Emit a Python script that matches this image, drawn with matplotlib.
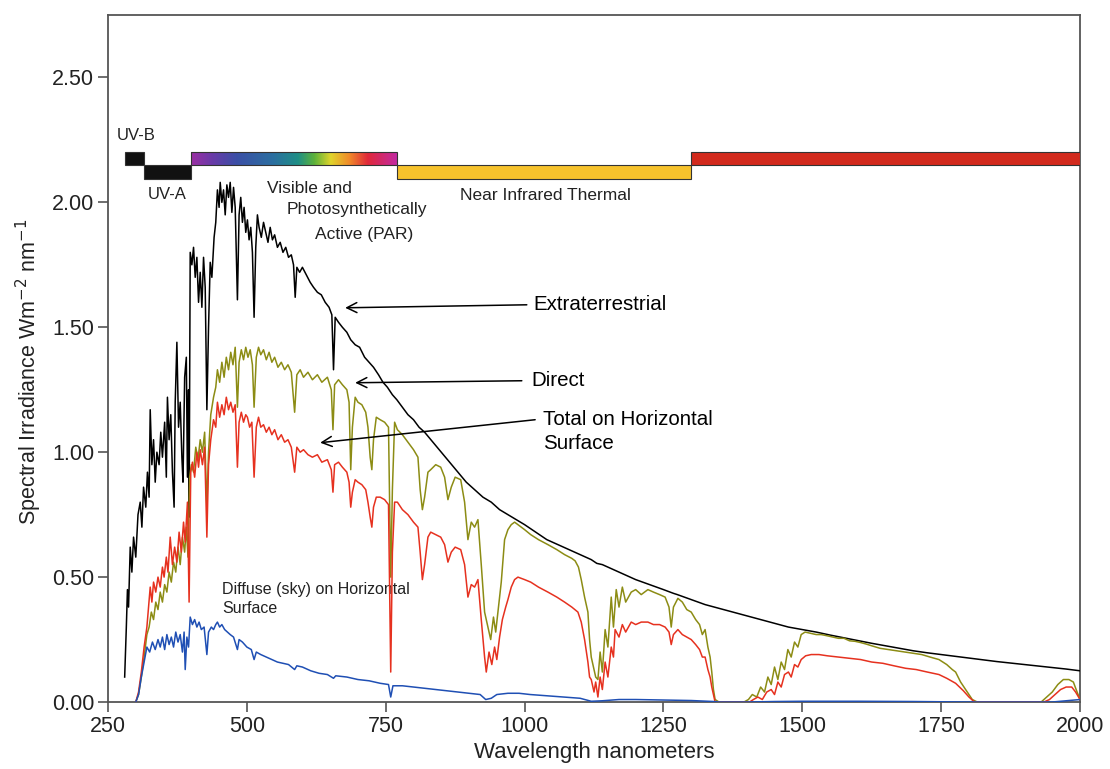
import matplotlib
matplotlib.use("Agg")
import matplotlib.pyplot as plt
import numpy as np
from matplotlib.colors import LinearSegmentedColormap
from matplotlib.patches import Rectangle

plt.rcParams['font.family'] = ['Liberation Sans', 'DejaVu Sans']

# extraterrestrial (black)
ext_wl = [280, 283, 285, 287, 290, 293, 296, 300, 304, 308, 311, 314, 318, 321, 324, 326, 329, 332, 335, 338,
          342, 345, 348, 352, 355, 357, 360, 363, 366, 369, 371, 374, 377, 380, 383, 385, 388, 391, 393, 395,
          396, 398, 401, 404, 407, 410, 413, 416, 419, 422, 425, 428, 431, 434, 437, 441, 444, 447, 450, 452,
          455, 458, 461, 464, 467, 470, 473, 476, 479, 483, 486, 489, 492, 495, 498, 501, 504, 507, 510, 513,
          516, 519, 522, 526, 530, 534, 538, 542, 546, 550, 555, 560, 565, 570, 575, 580, 584, 587, 590, 595,
          600, 607, 614, 620, 627, 634, 641, 648, 653, 656, 659, 665, 672, 680, 687, 695, 703, 712, 720, 728,
          737, 745, 753, 762, 770, 780, 790, 800, 810, 820, 835, 850, 865, 880, 895, 910, 925, 940, 955, 970,
          985, 1000, 1020, 1040, 1060, 1080, 1100, 1120, 1130, 1140, 1160, 1180, 1200, 1225, 1250, 1268, 1275, 1300, 1325, 1350,
          1375, 1400, 1425, 1450, 1475, 1500, 1525, 1550, 1575, 1600, 1625, 1650, 1675, 1700, 1725, 1750, 1775, 1800, 1825, 1850,
          1875, 1900, 1925, 1950, 1975, 2000]
ext_val = [0.10, 0.30, 0.45, 0.38, 0.62, 0.52, 0.66, 0.58, 0.75, 0.80, 0.70, 0.86, 0.78, 0.92, 0.82, 1.17, 0.95, 1.05, 0.88, 1.00,
           0.95, 1.08, 0.98, 1.12, 0.90, 1.22, 1.05, 1.15, 0.92, 0.78, 1.20, 1.44, 1.10, 1.20, 0.98, 0.88, 1.30, 1.38, 0.90, 1.25,
           0.74, 1.80, 1.75, 1.82, 1.70, 1.78, 1.60, 1.72, 1.58, 1.78, 1.66, 1.17, 1.50, 1.76, 1.70, 1.86, 1.92, 2.05, 1.98, 2.08,
           2.00, 2.05, 1.95, 2.07, 2.02, 2.08, 1.96, 2.06, 1.98, 1.61, 1.95, 2.02, 1.92, 1.98, 1.88, 1.93, 1.85, 1.90, 1.80, 1.54,
           1.82, 1.95, 1.90, 1.86, 1.92, 1.88, 1.84, 1.90, 1.85, 1.87, 1.82, 1.84, 1.80, 1.82, 1.78, 1.79, 1.75, 1.62, 1.74, 1.72,
           1.74, 1.71, 1.68, 1.66, 1.64, 1.63, 1.60, 1.58, 1.55, 1.33, 1.54, 1.52, 1.50, 1.48, 1.45, 1.43, 1.42, 1.38, 1.36, 1.34,
           1.31, 1.28, 1.26, 1.23, 1.21, 1.18, 1.15, 1.13, 1.10, 1.08, 1.04, 1.00, 0.96, 0.92, 0.88, 0.85, 0.82, 0.80, 0.77, 0.75,
           0.73, 0.71, 0.68, 0.65, 0.63, 0.61, 0.59, 0.57, 0.555, 0.55, 0.53, 0.51, 0.49, 0.47, 0.45, 0.435, 0.43, 0.41, 0.39, 0.375,
           0.36, 0.345, 0.33, 0.315, 0.30, 0.29, 0.28, 0.268, 0.257, 0.246, 0.235, 0.225, 0.215, 0.205, 0.197, 0.19, 0.183, 0.176, 0.169, 0.162,
           0.156, 0.150, 0.144, 0.138, 0.132, 0.125]

# direct (olive)
dir_wl = [300, 305, 310, 315, 320, 324, 328, 332, 336, 340, 344, 348, 352, 356, 360, 364, 368, 372, 376, 380,
          384, 388, 391, 394, 397, 400, 404, 408, 412, 416, 420, 424, 428, 431, 435, 440, 444, 447, 451, 455,
          459, 463, 467, 471, 475, 479, 483, 486, 490, 494, 498, 502, 506, 510, 513, 517, 521, 525, 530, 535,
          540, 545, 550, 556, 562, 568, 574, 580, 586, 590, 596, 602, 610, 618, 627, 635, 645, 652, 655, 658,
          665, 672, 680, 684, 687, 690, 695, 700, 707, 714, 718, 722, 725, 728, 733, 740, 748, 755, 759, 762,
          766, 771, 780, 790, 800, 808, 812, 816, 820, 826, 831, 840, 849, 856, 862, 868, 875, 885, 892, 898,
          904, 910, 916, 922, 928, 934, 939, 944, 948, 952, 958, 964, 970, 976, 982, 988, 1000, 1011, 1025, 1042,
          1058, 1072, 1085, 1091, 1097, 1102, 1108, 1114, 1117, 1120, 1124, 1128, 1132, 1136, 1140, 1145, 1150, 1156, 1160, 1165,
          1170, 1176, 1182, 1192, 1200, 1210, 1222, 1232, 1243, 1253, 1260, 1264, 1268, 1276, 1284, 1292, 1300, 1308, 1315, 1320,
          1325, 1330, 1334, 1337, 1340, 1343, 1350, 1395, 1403, 1410, 1418, 1425, 1432, 1438, 1444, 1450, 1456, 1462, 1468, 1474,
          1480, 1486, 1492, 1498, 1505, 1515, 1525, 1534, 1545, 1555, 1565, 1575, 1585, 1595, 1605, 1615, 1625, 1640, 1655, 1670,
          1686, 1700, 1715, 1730, 1746, 1760, 1770, 1776, 1785, 1794, 1800, 1806, 1815, 1930, 1940, 1950, 1960, 1970, 1980, 1988,
          1993, 2000]
dir_val = [0.00, 0.03, 0.10, 0.18, 0.27, 0.30, 0.36, 0.33, 0.40, 0.37, 0.44, 0.40, 0.47, 0.44, 0.52, 0.48, 0.56, 0.52, 0.62, 0.55,
           0.66, 0.60, 0.70, 0.58, 0.90, 0.95, 0.92, 1.02, 0.97, 1.05, 1.00, 1.08, 0.78, 1.00, 1.15, 1.22, 1.26, 1.33, 1.28, 1.36,
           1.30, 1.38, 1.33, 1.40, 1.35, 1.42, 1.18, 1.36, 1.41, 1.37, 1.42, 1.38, 1.41, 1.35, 1.18, 1.38, 1.42, 1.39, 1.41, 1.37,
           1.40, 1.36, 1.38, 1.34, 1.36, 1.33, 1.35, 1.32, 1.16, 1.31, 1.33, 1.30, 1.32, 1.29, 1.31, 1.28, 1.30, 1.25, 1.09, 1.27,
           1.29, 1.27, 1.25, 1.20, 0.93, 1.10, 1.22, 1.20, 1.19, 1.16, 1.10, 0.98, 0.93, 1.05, 1.14, 1.13, 1.12, 1.10, 0.50, 0.85,
           1.12, 1.09, 1.07, 1.04, 1.01, 0.98, 0.85, 0.77, 0.82, 0.92, 0.93, 0.95, 0.94, 0.90, 0.81, 0.86, 0.90, 0.89, 0.80, 0.65,
           0.72, 0.70, 0.73, 0.55, 0.36, 0.30, 0.25, 0.34, 0.28, 0.36, 0.48, 0.65, 0.69, 0.71, 0.72, 0.71, 0.69, 0.67, 0.65, 0.63,
           0.61, 0.59, 0.575, 0.565, 0.54, 0.49, 0.42, 0.36, 0.25, 0.18, 0.14, 0.10, 0.09, 0.20, 0.12, 0.29, 0.22, 0.42, 0.30, 0.45,
           0.38, 0.46, 0.40, 0.44, 0.45, 0.43, 0.45, 0.44, 0.43, 0.42, 0.38, 0.30, 0.38, 0.415, 0.40, 0.37, 0.36, 0.33, 0.31, 0.27,
           0.29, 0.22, 0.18, 0.12, 0.05, 0.01, 0.00, 0.00, 0.01, 0.03, 0.02, 0.06, 0.04, 0.10, 0.07, 0.14, 0.09, 0.16, 0.13, 0.21,
           0.18, 0.24, 0.22, 0.27, 0.28, 0.275, 0.27, 0.27, 0.265, 0.26, 0.255, 0.255, 0.245, 0.243, 0.238, 0.232, 0.225, 0.215, 0.21, 0.205,
           0.20, 0.195, 0.19, 0.18, 0.17, 0.15, 0.13, 0.12, 0.08, 0.05, 0.03, 0.01, 0.00, 0.00, 0.02, 0.04, 0.07, 0.09, 0.09, 0.08,
           0.05, 0.01]

# total on horizontal surface (red)
tot_wl = [300, 305, 310, 315, 320, 323, 326, 329, 332, 336, 340, 344, 348, 351, 355, 358, 362, 366, 370, 374,
          378, 382, 386, 389, 393, 396, 399, 402, 406, 410, 413, 416, 420, 424, 428, 431, 435, 440, 444, 447,
          451, 455, 459, 463, 467, 471, 475, 479, 483, 486, 490, 494, 498, 501, 505, 509, 513, 517, 521, 525,
          530, 535, 540, 545, 550, 556, 562, 568, 574, 580, 586, 590, 596, 602, 610, 618, 627, 635, 645, 652,
          655, 658, 665, 672, 680, 684, 687, 690, 695, 700, 707, 714, 718, 722, 725, 728, 733, 740, 748, 755,
          759, 762, 766, 771, 780, 790, 800, 808, 812, 816, 820, 826, 831, 840, 849, 856, 862, 868, 875, 885,
          892, 898, 904, 910, 916, 922, 928, 931, 936, 941, 946, 950, 955, 960, 966, 970, 976, 982, 988, 1000,
          1011, 1025, 1042, 1058, 1072, 1085, 1096, 1102, 1108, 1114, 1117, 1120, 1125, 1128, 1132, 1136, 1140, 1145, 1150, 1156,
          1160, 1163, 1170, 1176, 1182, 1192, 1200, 1210, 1222, 1232, 1243, 1253, 1260, 1264, 1268, 1276, 1284, 1292, 1300, 1308,
          1315, 1320, 1325, 1330, 1334, 1337, 1340, 1343, 1405, 1412, 1420, 1428, 1436, 1444, 1450, 1456, 1462, 1468, 1475, 1480,
          1486, 1492, 1498, 1506, 1516, 1530, 1545, 1565, 1585, 1605, 1625, 1645, 1665, 1686, 1705, 1725, 1746, 1760, 1776, 1790,
          1800, 1810, 1935, 1945, 1955, 1965, 1975, 1985, 1992, 2000]
tot_val = [0.00, 0.04, 0.12, 0.22, 0.30, 0.38, 0.46, 0.40, 0.48, 0.44, 0.50, 0.46, 0.54, 0.50, 0.58, 0.52, 0.66, 0.55, 0.62, 0.56,
           0.68, 0.60, 0.72, 0.64, 0.80, 0.40, 0.92, 0.96, 0.90, 1.00, 0.94, 1.01, 0.95, 1.02, 0.66, 0.95, 1.05, 1.13, 1.10, 1.20,
           1.14, 1.19, 1.15, 1.22, 1.17, 1.20, 1.16, 1.19, 0.94, 1.12, 1.16, 1.12, 1.15, 1.14, 1.10, 1.12, 0.90, 1.10, 1.14, 1.10,
           1.11, 1.08, 1.10, 1.07, 1.09, 1.05, 1.07, 1.04, 1.05, 1.02, 0.92, 1.02, 1.00, 1.01, 0.99, 0.98, 0.99, 0.96, 0.97, 0.93,
           0.84, 0.95, 0.96, 0.94, 0.92, 0.88, 0.78, 0.84, 0.89, 0.88, 0.87, 0.85, 0.80, 0.74, 0.70, 0.78, 0.82, 0.82, 0.81, 0.79,
           0.12, 0.60, 0.80, 0.80, 0.77, 0.75, 0.72, 0.70, 0.60, 0.49, 0.55, 0.66, 0.68, 0.67, 0.66, 0.63, 0.56, 0.60, 0.62, 0.61,
           0.55, 0.42, 0.47, 0.46, 0.49, 0.33, 0.18, 0.12, 0.20, 0.15, 0.22, 0.17, 0.26, 0.33, 0.38, 0.41, 0.46, 0.49, 0.50, 0.49,
           0.48, 0.46, 0.44, 0.42, 0.40, 0.38, 0.36, 0.32, 0.25, 0.16, 0.10, 0.09, 0.04, 0.08, 0.02, 0.10, 0.05, 0.16, 0.10, 0.22,
           0.18, 0.29, 0.26, 0.31, 0.28, 0.32, 0.31, 0.32, 0.32, 0.31, 0.31, 0.30, 0.28, 0.23, 0.27, 0.29, 0.27, 0.26, 0.25, 0.23,
           0.21, 0.18, 0.18, 0.13, 0.10, 0.06, 0.03, 0.00, 0.00, 0.01, 0.02, 0.01, 0.04, 0.05, 0.03, 0.08, 0.06, 0.11, 0.12, 0.10,
           0.15, 0.14, 0.17, 0.185, 0.19, 0.19, 0.185, 0.18, 0.175, 0.17, 0.16, 0.155, 0.145, 0.135, 0.13, 0.12, 0.11, 0.095, 0.075, 0.045,
           0.02, 0.00, 0.00, 0.01, 0.03, 0.05, 0.06, 0.06, 0.04, 0.01]

# diffuse sky on horizontal surface (blue)
dif_wl = [300, 305, 310, 315, 320, 325, 330, 335, 340, 344, 348, 352, 356, 360, 364, 368, 372, 376, 380, 384,
          387, 389, 392, 395, 398, 402, 406, 410, 414, 418, 423, 428, 431, 436, 440, 444, 447, 451, 455, 460,
          465, 470, 476, 483, 486, 492, 500, 508, 513, 517, 525, 535, 545, 555, 565, 575, 586, 590, 600, 615,
          630, 645, 656, 660, 680, 700, 720, 740, 755, 759, 763, 780, 800, 820, 840, 860, 880, 900, 920, 930,
          940, 950, 970, 990, 1010, 1040, 1070, 1100, 1120, 1140, 1170, 1200, 1250, 1300, 1340, 1350, 1400, 1450, 1500, 1600,
          1700, 1800, 1950, 2000]
dif_val = [0.00, 0.03, 0.10, 0.16, 0.22, 0.20, 0.24, 0.21, 0.25, 0.22, 0.26, 0.21, 0.27, 0.23, 0.26, 0.22, 0.28, 0.24, 0.27, 0.20,
           0.28, 0.13, 0.26, 0.22, 0.34, 0.31, 0.33, 0.30, 0.32, 0.29, 0.30, 0.19, 0.28, 0.30, 0.29, 0.31, 0.32, 0.30, 0.31, 0.29,
           0.28, 0.27, 0.26, 0.21, 0.25, 0.24, 0.22, 0.21, 0.17, 0.20, 0.19, 0.18, 0.17, 0.16, 0.155, 0.15, 0.13, 0.145, 0.14, 0.125,
           0.115, 0.11, 0.095, 0.105, 0.10, 0.09, 0.085, 0.075, 0.07, 0.02, 0.065, 0.065, 0.06, 0.055, 0.05, 0.045, 0.04, 0.035, 0.03, 0.01,
           0.015, 0.03, 0.035, 0.035, 0.03, 0.025, 0.02, 0.015, 0.003, 0.005, 0.01, 0.01, 0.008, 0.006, 0.002, 0.0, 0.0, 0.002, 0.003, 0.003,
           0.002, 0.0, 0.0, 0.01]

# spectral bands along the top
band_names = ['UV-B', 'UV-A', 'Visible', 'Near IR', 'Thermal']
band_start = [280, 315, 400, 770, 1300]
band_end = [315, 400, 770, 1300, 2000]
band_low = [2.15, 2.095, 2.15, 2.095, 2.15]
band_high = [2.20, 2.15, 2.20, 2.15, 2.20]
band_color = ['#111111', '#111111', None, '#f6c22c', '#d22a1d']

vis_stops = [0.0, 0.10, 0.22, 0.40, 0.52, 0.60, 0.68, 0.77, 0.86, 1.0]
vis_colors = ['#9b2fa3', '#6a3aa8', '#3b4fa6', '#2b6fa0', '#1f8f86', '#5db23a', '#e0d42c', '#f08a2a', '#e0283a', '#c22aa0']

fig = plt.figure(figsize=(11.1, 7.69), dpi=100)
ax = fig.add_axes([0.0973, 0.0871, 0.8757, 0.8934])

ax.plot(ext_wl, ext_val, color='black', lw=1.1, zorder=3)
ax.plot(dir_wl, dir_val, color='#8c8c14', lw=1.1, zorder=4)
ax.plot(tot_wl, tot_val, color='#e6311f', lw=1.1, zorder=5)
ax.plot(dif_wl, dif_val, color='#1f4fb4', lw=1.1, zorder=6)

# band bars
cmap = LinearSegmentedColormap.from_list('vis', list(zip(vis_stops, vis_colors)))
for i in range(len(band_names)):
    x0, x1 = band_start[i], band_end[i]
    y0, y1 = band_low[i], band_high[i]
    if band_color[i] is None:
        ax.imshow(np.linspace(0, 1, 256).reshape(1, -1), cmap=cmap, aspect='auto',
                  extent=[x0, x1, y0, y1], zorder=7)
        ax.add_patch(Rectangle((x0, y0), x1 - x0, y1 - y0, fill=False, ec='#333333', lw=0.8, zorder=8))
    else:
        ax.add_patch(Rectangle((x0, y0), x1 - x0, y1 - y0, fc=band_color[i], ec='#333333', lw=0.8, zorder=8))

# small labels
ax.text(266, 2.268, 'UV-B', fontsize=12, va='center', ha='left', color='#222222', clip_on=False)
ax.text(322, 2.03, 'UV-A', fontsize=12, va='center', ha='left', color='#222222')
ax.text(536, 2.055, 'Visible and', fontsize=12.5, va='center', ha='left', color='#222222')
ax.text(572, 1.97, 'Photosynthetically', fontsize=12.5, va='center', ha='left', color='#222222')
ax.text(623, 1.87, 'Active (PAR)', fontsize=12.5, va='center', ha='left', color='#222222')
ax.text(884, 2.027, 'Near Infrared Thermal', fontsize=12.5, va='center', ha='left', color='#222222')
ax.text(455, 0.449, 'Diffuse (sky) on Horizontal', fontsize=11.5, va='center', ha='left', color='#222222')
ax.text(455, 0.373, 'Surface', fontsize=11.5, va='center', ha='left', color='#222222')

# curve labels with arrows
arrow = dict(arrowstyle='->', lw=1.1, color='black', mutation_scale=18, shrinkA=0, shrinkB=0)
ax.annotate('', xy=(677, 1.578), xytext=(1004, 1.59), arrowprops=arrow, zorder=9)
ax.text(1015, 1.59, 'Extraterrestrial', fontsize=14.8, va='center', ha='left')
ax.annotate('', xy=(695, 1.278), xytext=(995, 1.286), arrowprops=arrow, zorder=9)
ax.text(1013, 1.286, 'Direct', fontsize=14.8, va='center', ha='left')
ax.annotate('', xy=(632, 1.038), xytext=(1019, 1.13), arrowprops=arrow, zorder=9)
ax.text(1033, 1.13, 'Total on Horizontal', fontsize=14.8, va='center', ha='left')
ax.text(1033, 1.034, 'Surface', fontsize=14.8, va='center', ha='left')

ax.set_xlim(250, 2000)
ax.set_ylim(0, 2.75)
ax.set_xticks([250, 500, 750, 1000, 1250, 1500, 1750, 2000])
ax.set_yticks([0, 0.5, 1.0, 1.5, 2.0, 2.5])
ax.set_yticklabels(['0.00', '0.50', '1.00', '1.50', '2.00', '2.50'])
ax.tick_params(labelsize=15.5, length=7, width=1.2, color='#555555', labelcolor='#222222', pad=3)
for s in ax.spines.values():
    s.set_color('#555555')
    s.set_linewidth(1.3)

ax.set_xlabel('Wavelength nanometers', fontsize=16, color='#222222', labelpad=4)
ax.set_ylabel('Spectral Irradiance Wm$^{-2}$ nm$^{-1}$', fontsize=15.5, color='#222222')
ax.yaxis.set_label_coords(-0.066, 0.48)

fig.savefig('out.png', dpi=100)
